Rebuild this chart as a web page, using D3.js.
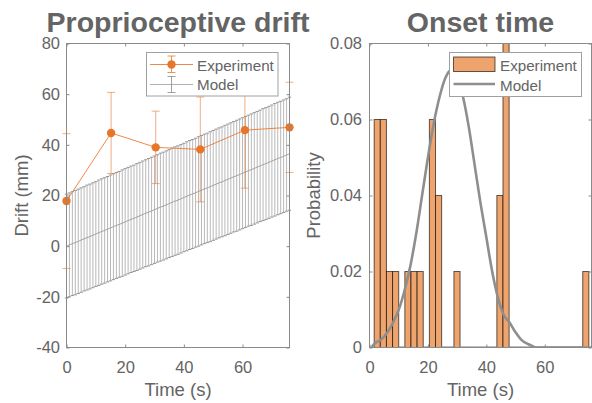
<!DOCTYPE html>
<html>
<head>
<meta charset="utf-8">
<script src="https://cdn.jsdelivr.net/npm/d3@7"></script>
<style>
  body { margin: 0; background: #fff; }
  svg { display: block; font-family: "Liberation Sans", Arial, Helvetica, sans-serif; }
</style>
</head>
<body>
<svg id="chart" width="592" height="403"></svg>
<script>
// ---- Proprioceptive drift: experiment (mean +- error) ----
var expTime = [0, 15.2, 30.4, 45.6, 60.8, 76];
var expDrift = [17.8, 44.7, 39.0, 38.2, 45.8, 46.9];
var expErr = [26.6, 16.0, 14.3, 20.7, 22.9, 17.8];

// ---- Proprioceptive drift: model, one errorbar per second ----
var modelTime = [0,1,2,3,4,5,6,7,8,9,10,11,12,13,14,15,16,17,18,19,20,21,22,23,24,25,26,27,28,29,30,31,32,33,34,35,36,37,38,
  39,40,41,42,43,44,45,46,47,48,49,50,51,52,53,54,55,56,57,58,59,60,61,62,63,64,65,66,67,68,69,70,71,72,73,74,75,76];
var modelMean = [0.0,0.5,1.0,1.4,1.9,2.4,2.9,3.4,3.8,4.3, 4.8,5.3,5.8,6.2,6.7,7.2,7.7,8.2,8.6,9.1,
  9.6,10.1,10.6,11.0,11.5,12.0,12.5,13.0,13.4,13.9, 14.4,14.9,15.4,15.8,16.3,16.8,17.3,17.8,18.2,18.7,
  19.2,19.7,20.2,20.6,21.1,21.6,22.1,22.6,23.0,23.5, 24.0,24.5,25.0,25.4,25.9,26.4,26.9,27.4,27.8,28.3,
  28.8,29.3,29.8,30.2,30.7,31.2,31.7,32.2,32.6,33.1, 33.6,34.1,34.6,35.0,35.5,36.0,36.5];
var modelSd = [20.5,20.5,20.5,20.6,20.6,20.6,20.6,20.7,20.7,20.7, 20.7,20.8,20.8,20.8,20.8,20.9,20.9,20.9,20.9,21.0,
  21.0,21.0,21.0,21.0,21.1,21.1,21.1,21.1,21.2,21.2, 21.2,21.2,21.3,21.3,21.3,21.3,21.4,21.4,21.4,21.4,
  21.4,21.5,21.5,21.5,21.5,21.6,21.6,21.6,21.6,21.7, 21.7,21.7,21.7,21.7,21.8,21.8,21.8,21.8,21.9,21.9,
  21.9,21.9,21.9,22.0,22.0,22.0,22.0,22.1,22.1,22.1, 22.1,22.2,22.2,22.2,22.2,22.2,22.3];

// ---- Onset time: histogram (bin left edges, probability) ----
var binWidth = 2.1;
var binLeft = [1.6,3.7,5.8,7.9,10.0,12.1,14.2,16.3,18.4,20.5,22.6,24.7,26.8,28.9,31.0,33.1,35.2,37.3,39.4,41.5,
  43.6,45.7,47.8,49.9,52.0,54.1,56.2,58.3,60.4,62.5,64.6,66.7,68.8,70.9,73.0];
var binProb = [0.06,0.06,0.02,0.02,0,0.02,0.02,0.02,0,0.06,0.04,0,0,0.02,0,0,0,0,0,0,
  0.04,0.60,0,0,0,0,0,0,0,0,0,0,0,0,0.02];

// ---- Onset time: model density ----
var curveTime = [0.6,2,4,6,8,10,12,14,16,18,20,22,24,26,28,30,32,34,36,38,40,42,44,46,48,50,52,54,56,57,76];
var curveProb = [0,0.0012,0.0021,0.0038,0.0065,0.0099,0.015,0.0215,0.030,0.040,0.050,0.059,0.066,0.071,0.073,
  0.071,0.066,0.058,0.048,0.038,0.029,0.020,0.013,0.0085,0.0065,0.004,0.002,0.001,0.0003,0,0];

var expColor = "#e8762a",
  modelGray = "#9a9a9a",
  axisColor = "#8a8a8a",
  textColor = "#646464";

var svg = d3.select("#chart");

// left panel scales
var xL = d3.scaleLinear().domain([0, 76]).range([66.5, 289.5]);
var yL = d3.scaleLinear().domain([-40, 80]).range([347.5, 43.5]);
// right panel scales
var xR = d3.scaleLinear().domain([0, 76]).range([369.5, 591.5]);
var yR = d3.scaleLinear().domain([0, 0.08]).range([347.5, 43.5]);

function drawAxes(x, y, xTicks, yTicks, yFmt, yPad) {
  var g = svg.append("g");
  var x0 = x.range()[0], x1 = x.range()[1], y0 = y.range()[0], y1 = y.range()[1];

  g.append("g").attr("transform", "translate(0," + y0 + ")")
    .call(d3.axisBottom(x).tickValues(xTicks).tickSizeInner(-3).tickSizeOuter(0).tickPadding(13.5)
      .tickFormat(function(d) { return String(d); }));
  g.append("g").attr("transform", "translate(0," + y1 + ")")
    .call(d3.axisTop(x).tickValues(xTicks).tickSizeInner(-3).tickSizeOuter(0).tickFormat(""));
  g.append("g").attr("transform", "translate(" + x0 + ",0)")
    .call(d3.axisLeft(y).tickValues(yTicks).tickSizeInner(-3).tickSizeOuter(0).tickPadding(yPad).tickFormat(yFmt));
  g.append("g").attr("transform", "translate(" + x1 + ",0)")
    .call(d3.axisRight(y).tickValues(yTicks).tickSizeInner(-3).tickSizeOuter(0).tickFormat(""));

  g.selectAll(".domain").remove();
  g.selectAll(".tick line").attr("stroke", axisColor);
  g.selectAll("g").attr("font-family", null).attr("font-size", null);
  g.selectAll(".tick text").attr("fill", textColor).style("font-size", "16.5px");

  g.append("rect")
    .attr("x", x0).attr("y", y1)
    .attr("width", x1 - x0).attr("height", y0 - y1)
    .attr("fill", "none").attr("stroke", axisColor).attr("stroke-width", 1);
}

function addTitle(text, cx) {
  svg.append("text").attr("x", cx).attr("y", 31.5)
    .attr("text-anchor", "middle").attr("fill", textColor)
    .style("font-size", "28.5px").style("font-weight", "bold")
    .text(text);
}

function addLabels(x, xText, yText, yBase) {
  var cx = (x.range()[0] + x.range()[1]) / 2;
  svg.append("text").attr("x", cx).attr("y", 396)
    .attr("text-anchor", "middle").attr("fill", textColor)
    .style("font-size", "18.5px").text(xText);
  svg.append("text")
    .attr("transform", "translate(" + yBase + ",195.5) rotate(-90)")
    .attr("text-anchor", "middle").attr("fill", textColor)
    .style("font-size", "18.5px").text(yText);
}

// ================= left panel =================
var left = svg.append("g");

// model errorbars
var modelIdx = d3.range(modelTime.length);
var mbars = left.append("g").attr("stroke", modelGray).attr("stroke-width", 0.7);
mbars.selectAll("line.v").data(modelIdx).enter().append("line").attr("class", "v")
  .attr("x1", function(i) { return xL(modelTime[i]); })
  .attr("x2", function(i) { return xL(modelTime[i]); })
  .attr("y1", function(i) { return yL(modelMean[i] - modelSd[i]); })
  .attr("y2", function(i) { return yL(modelMean[i] + modelSd[i]); });
// caps
var caps = left.append("g").attr("stroke", "#8c8c8c").attr("stroke-width", 0.9);
caps.selectAll("line.lo").data(modelIdx).enter().append("line").attr("class", "lo")
  .attr("x1", function(i) { return xL(modelTime[i]) - 1.7; })
  .attr("x2", function(i) { return xL(modelTime[i]) + 1.7; })
  .attr("y1", function(i) { return yL(modelMean[i] - modelSd[i]); })
  .attr("y2", function(i) { return yL(modelMean[i] - modelSd[i]); });
caps.selectAll("line.hi").data(modelIdx).enter().append("line").attr("class", "hi")
  .attr("x1", function(i) { return xL(modelTime[i]) - 1.7; })
  .attr("x2", function(i) { return xL(modelTime[i]) + 1.7; })
  .attr("y1", function(i) { return yL(modelMean[i] + modelSd[i]); })
  .attr("y2", function(i) { return yL(modelMean[i] + modelSd[i]); });

left.append("path")
  .datum(modelIdx)
  .attr("fill", "none").attr("stroke", modelGray).attr("stroke-width", 0.9)
  .attr("d", d3.line().x(function(i) { return xL(modelTime[i]); }).y(function(i) { return yL(modelMean[i]); }));

// experiment
var expIdx = d3.range(expTime.length);
var ebars = left.append("g").attr("stroke", expColor).attr("stroke-width", 0.8).attr("stroke-opacity", 0.75);
expIdx.forEach(function(i) {
  var cx = xL(expTime[i]), lo = yL(expDrift[i] - expErr[i]), hi = yL(expDrift[i] + expErr[i]);
  ebars.append("line").attr("x1", cx).attr("x2", cx).attr("y1", lo).attr("y2", hi);
  ebars.append("line").attr("x1", cx - 4).attr("x2", cx + 4).attr("y1", lo).attr("y2", lo);
  ebars.append("line").attr("x1", cx - 4).attr("x2", cx + 4).attr("y1", hi).attr("y2", hi);
});
left.append("path")
  .datum(expIdx)
  .attr("fill", "none").attr("stroke", expColor).attr("stroke-width", 1).attr("stroke-opacity", 0.85)
  .attr("d", d3.line().x(function(i) { return xL(expTime[i]); }).y(function(i) { return yL(expDrift[i]); }));
left.selectAll("circle").data(expIdx).enter().append("circle")
  .attr("cx", function(i) { return xL(expTime[i]); })
  .attr("cy", function(i) { return yL(expDrift[i]); })
  .attr("r", 4.2).attr("fill", expColor);

drawAxes(xL, yL, [0, 20, 40, 60], [-40, -20, 0, 20, 40, 60, 80], function(d) { return String(d); }, 6.5);
addTitle("Proprioceptive drift", 178);
addLabels(xL, "Time (s)", "Drift (mm)", 28);

// left legend
var lg = svg.append("g");
lg.append("rect").attr("x", 146.5).attr("y", 52.5).attr("width", 131.5).attr("height", 43.5)
  .attr("fill", "#fff").attr("stroke", "#a0a0a0").attr("stroke-width", 1);
lg.append("line").attr("x1", 150).attr("x2", 193).attr("y1", 64.5).attr("y2", 64.5)
  .attr("stroke", expColor).attr("stroke-width", 1).attr("stroke-opacity", 0.85);
lg.append("line").attr("x1", 171.5).attr("x2", 171.5).attr("y1", 56).attr("y2", 72.5)
  .attr("stroke", expColor).attr("stroke-width", 0.8);
lg.append("line").attr("x1", 167.5).attr("x2", 175.5).attr("y1", 56).attr("y2", 56)
  .attr("stroke", expColor).attr("stroke-width", 0.8);
lg.append("line").attr("x1", 167.5).attr("x2", 175.5).attr("y1", 72.5).attr("y2", 72.5)
  .attr("stroke", expColor).attr("stroke-width", 0.8);
lg.append("circle").attr("cx", 171.5).attr("cy", 64.5).attr("r", 4.2).attr("fill", expColor);
lg.append("line").attr("x1", 150).attr("x2", 193).attr("y1", 84.5).attr("y2", 84.5)
  .attr("stroke", modelGray).attr("stroke-width", 0.8);
lg.append("line").attr("x1", 171.5).attr("x2", 171.5).attr("y1", 76.5).attr("y2", 92.5)
  .attr("stroke", "#888").attr("stroke-width", 0.8);
lg.append("line").attr("x1", 167.5).attr("x2", 175.5).attr("y1", 76.5).attr("y2", 76.5)
  .attr("stroke", "#888").attr("stroke-width", 0.8);
lg.append("line").attr("x1", 167.5).attr("x2", 175.5).attr("y1", 92.5).attr("y2", 92.5)
  .attr("stroke", "#888").attr("stroke-width", 0.8);
lg.append("text").attr("x", 197).attr("y", 70.7).attr("fill", textColor).style("font-size", "15.2px").text("Experiment");
lg.append("text").attr("x", 197).attr("y", 90).attr("fill", textColor).style("font-size", "15.2px").text("Model");

// ================= right panel =================
svg.append("clipPath").attr("id", "clipR")
  .append("rect").attr("x", 369.5).attr("y", 43.5).attr("width", 222).attr("height", 304);

var right = svg.append("g").attr("clip-path", "url(#clipR)");
var binIdx = d3.range(binLeft.length);

right.selectAll("rect.bar").data(binIdx.filter(function(i) { return binProb[i] > 0; }))
  .enter().append("rect").attr("class", "bar")
  .attr("x", function(i) { return xR(binLeft[i]); })
  .attr("width", function(i) { return xR(binLeft[i] + binWidth) - xR(binLeft[i]); })
  .attr("y", function(i) { return yR(binProb[i]); })
  .attr("height", function(i) { return yR(0) - yR(binProb[i]); })
  .attr("fill", "#efa46d").attr("stroke", "rgba(0,0,0,0.62)").attr("stroke-width", 1);

// empty bins show as flat edges on the baseline
right.selectAll("line.zero").data(binIdx.filter(function(i) { return binProb[i] === 0; }))
  .enter().append("line").attr("class", "zero")
  .attr("x1", function(i) { return xR(binLeft[i]); })
  .attr("x2", function(i) { return xR(binLeft[i] + binWidth); })
  .attr("y1", yR(0)).attr("y2", yR(0))
  .attr("stroke", "#7a7a7a").attr("stroke-width", 2);

right.append("path")
  .datum(d3.range(curveTime.length))
  .attr("fill", "none").attr("stroke", "#8e8e8e").attr("stroke-width", 2.6)
  .attr("d", d3.line().curve(d3.curveMonotoneX)
    .x(function(i) { return xR(curveTime[i]); })
    .y(function(i) { return yR(curveProb[i]); }));

drawAxes(xR, yR, [0, 20, 40, 60], [0, 0.02, 0.04, 0.06, 0.08],
  function(d) { return d === 0 ? "0" : d3.format(".2f")(d); }, 7.5);
addTitle("Onset time", 480.5);
addLabels(xR, "Time (s)", "Probability", 320);

// right legend
var rg = svg.append("g");
rg.append("rect").attr("x", 449.5).attr("y", 52.5).attr("width", 132).attr("height", 44)
  .attr("fill", "#fff").attr("stroke", "#a0a0a0").attr("stroke-width", 1);
rg.append("rect").attr("x", 453.5).attr("y", 57).attr("width", 41.5).attr("height", 14.5)
  .attr("fill", "#efa46d").attr("stroke", "rgba(0,0,0,0.62)").attr("stroke-width", 1);
rg.append("line").attr("x1", 453.5).attr("x2", 495).attr("y1", 84).attr("y2", 84)
  .attr("stroke", "#8e8e8e").attr("stroke-width", 2.6);
rg.append("text").attr("x", 500).attr("y", 70.7).attr("fill", textColor).style("font-size", "15.2px").text("Experiment");
rg.append("text").attr("x", 500).attr("y", 90.5).attr("fill", textColor).style("font-size", "15.2px").text("Model");
</script>
</body>
</html>
